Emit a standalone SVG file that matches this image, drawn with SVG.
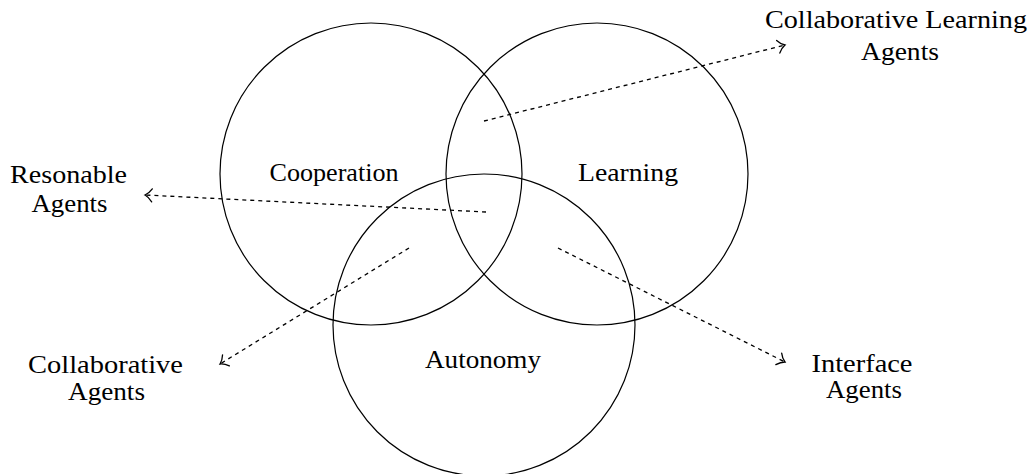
<svg xmlns="http://www.w3.org/2000/svg" width="1036" height="474" viewBox="0 0 1036 474">
<defs>
<style>
.c{fill:none;stroke:#000;stroke-width:1.2}
.l{fill:none;stroke:#000;stroke-width:1.3;stroke-dasharray:4 4}
text{font-family:"Liberation Serif","Times New Roman",serif;font-size:25px;fill:#000;text-anchor:middle}
</style>
<marker id="arr" markerWidth="16" markerHeight="16" refX="11" refY="8" orient="auto" markerUnits="userSpaceOnUse">
<path d="M4,1.5 Q7,6 11,8 Q7,10 4,14.5" fill="none" stroke="#000" stroke-width="1.3" stroke-linecap="round"/>
</marker>
</defs>
<rect width="1036" height="474" fill="#fff"/>
<g id="cooperation">
<circle class="c" cx="371" cy="174" r="151"/>
<text x="334" y="181" textLength="129" lengthAdjust="spacingAndGlyphs">Cooperation</text>
</g>
<g id="learning">
<circle class="c" cx="597" cy="174" r="151"/>
<text x="628" y="181" textLength="100" lengthAdjust="spacingAndGlyphs">Learning</text>
</g>
<g id="autonomy">
<circle class="c" cx="484" cy="325" r="151"/>
<text x="483" y="368" textLength="116" lengthAdjust="spacingAndGlyphs">Autonomy</text>
</g>
<g id="collab-learning">
<text x="896" y="28" textLength="262" lengthAdjust="spacingAndGlyphs">Collaborative Learning</text>
<text x="900" y="60" textLength="78" lengthAdjust="spacingAndGlyphs">Agents</text>
</g>
<g id="resonable">
<text x="68.5" y="183" textLength="117" lengthAdjust="spacingAndGlyphs">Resonable</text>
<text x="69.5" y="212" textLength="76" lengthAdjust="spacingAndGlyphs">Agents</text>
</g>
<g id="collaborative">
<text x="105.5" y="373" textLength="155" lengthAdjust="spacingAndGlyphs">Collaborative</text>
<text x="106.5" y="400" textLength="77" lengthAdjust="spacingAndGlyphs">Agents</text>
</g>
<g id="interface">
<text x="862" y="372" textLength="101" lengthAdjust="spacingAndGlyphs">Interface</text>
<text x="864" y="398" textLength="76" lengthAdjust="spacingAndGlyphs">Agents</text>
</g>
<g id="connectors">
<line class="l" x1="484" y1="121" x2="785" y2="45" marker-end="url(#arr)"/>
<line class="l" x1="486" y1="212" x2="145" y2="195" marker-end="url(#arr)"/>
<line class="l" x1="409" y1="248" x2="220" y2="364" marker-end="url(#arr)"/>
<line class="l" x1="558" y1="248" x2="785" y2="362" marker-end="url(#arr)"/>
</g>
</svg>
